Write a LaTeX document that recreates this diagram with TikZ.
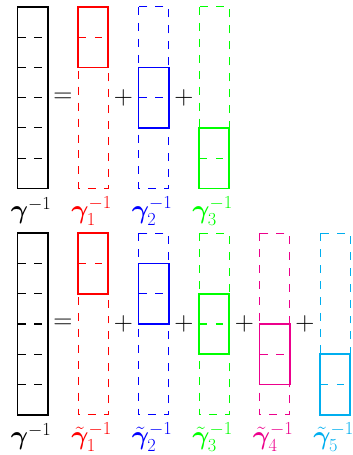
\documentclass[tikz,border=0pt]{standalone}
\usepackage{amsmath,bm}
\usetikzlibrary{calc}
\definecolor{cRed}{RGB}{255,0,0}
\definecolor{cBlue}{RGB}{0,0,255}
\definecolor{cGreen}{RGB}{0,255,0}
\definecolor{cMag}{RGB}{236,0,140}
\definecolor{cCyan}{RGB}{0,174,239}
\tikzset{
  solidbox/.style={line width=1.6pt},
  dashbox/.style={line width=1pt, dash pattern=on 7.5pt off 7.5pt},
  innerdash/.style={line width=1pt, dash pattern=on 7pt off 8pt},
  lab/.style={anchor=base, inner sep=0pt, font=\fontsize{25.5}{30}\selectfont},
  op/.style={inner sep=0pt, font=\fontsize{25}{30}\selectfont}
}
\newcommand\blackcol[2]{% x, top
  \draw[solidbox] (#1,#2) rectangle ++(1,-6);
  \foreach \k in {1,...,5} {\draw[innerdash] ($(#1,#2)+(0.03,-\k)$) -- ++(0.97,0);}
}
\newcommand\colcol[4]{% x, top, start unit, colour
  \draw[dashbox,draw=#4] (#1,#2) rectangle ++(1,-6);
  \draw[solidbox,draw=#4] ($(#1,#2)+(0,-#3)$) rectangle ++(1,-2);
  \draw[innerdash,draw=#4] ($(#1,#2)+(0.03,-#3-1)$) -- ++(0.97,0);
}
\begin{document}
\begin{tikzpicture}[x=1cm,y=1cm]
\useasboundingbox (0,0) rectangle (11.669,-15.041);
% ---- top row ----
\def\T{-0.23}
\blackcol{0.58}{\T}
\colcol{2.58}{\T}{0}{cRed}
\colcol{4.58}{\T}{2}{cBlue}
\colcol{6.58}{\T}{4}{cGreen}
\node[op] (eqA) at (2.08,\T-3) {$=$};
\node[op] (pA1) at (4.08,\T-3) {$+$};
\node[op] (pA2) at (6.08,\T-3) {$+$};
\node[lab] (lA0) at (1.03,\T-7.0) {$\boldsymbol{\gamma}^{-1}$};
\node[lab,cRed] (lA1) at (3.03,\T-7.0) {$\boldsymbol{\gamma}_1^{-1}$};
\node[lab,cBlue] (lA2) at (5.03,\T-7.0) {$\boldsymbol{\gamma}_2^{-1}$};
\node[lab,cGreen] (lA3) at (7.03,\T-7.0) {$\boldsymbol{\gamma}_3^{-1}$};
% ---- bottom row ----
\def\B{-7.71}
\blackcol{0.58}{\B}
\colcol{2.58}{\B}{0}{cRed}
\colcol{4.58}{\B}{1}{cBlue}
\colcol{6.58}{\B}{2}{cGreen}
\colcol{8.58}{\B}{3}{cMag}
\colcol{10.58}{\B}{4}{cCyan}
\node[op] (eqB) at (2.08,\B-3) {$=$};
\node[op] (pB1) at (4.08,\B-3) {$+$};
\node[op] (pB2) at (6.08,\B-3) {$+$};
\node[op] (pB3) at (8.08,\B-3) {$+$};
\node[op] (pB4) at (10.08,\B-3) {$+$};
\node[lab] (lB0) at (1.03,\B-7.0) {$\boldsymbol{\gamma}^{-1}$};
\node[lab,cRed] (lB1) at (3.03,\B-7.0) {$\tilde{\boldsymbol{\gamma}}_1^{-1}$};
\node[lab,cBlue] (lB2) at (5.03,\B-7.0) {$\tilde{\boldsymbol{\gamma}}_2^{-1}$};
\node[lab,cGreen] (lB3) at (7.03,\B-7.0) {$\tilde{\boldsymbol{\gamma}}_3^{-1}$};
\node[lab,cMag] (lB4) at (9.03,\B-7.0) {$\tilde{\boldsymbol{\gamma}}_4^{-1}$};
\node[lab,cCyan] (lB5) at (11.03,\B-7.0) {$\tilde{\boldsymbol{\gamma}}_5^{-1}$};
\end{tikzpicture}
\end{document}
